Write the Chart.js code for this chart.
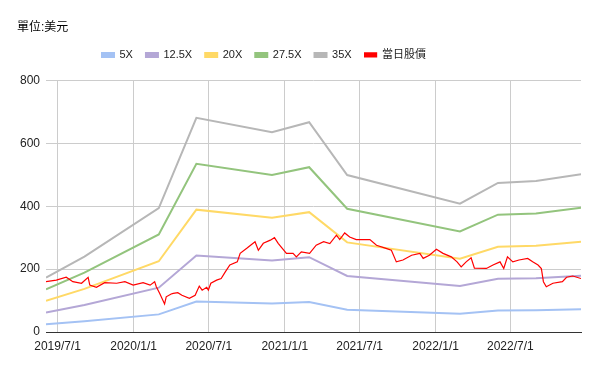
<!DOCTYPE html>
<html>
<head>
<meta charset="utf-8">
<script src="https://cdn.jsdelivr.net/npm/chart.js@4.4.1/dist/chart.umd.min.js"></script>
<style>
  html, body { margin: 0; padding: 0; background: #fff; }
  #wrap { width: 600px; height: 371px; }
</style>
</head>
<body>
<div id="wrap"><canvas id="myChart" width="600" height="371"></canvas></div>
<script>
// valuation dates (one per quarter) and the lines at each multiple
const valDates = ["2019-06-03", "2019-09-04", "2020-03-02", "2020-06-01", "2020-12-01", "2021-03-01",
  "2021-06-01", "2022-03-01", "2022-06-01", "2022-09-01", "2022-12-19"];
const pe5 = [25, 34, 56, 97, 91, 95, 71, 58, 68, 69, 72];
const pe125 = [62, 86, 141, 243, 227, 238, 178, 146, 169, 171, 179];
const pe20 = [99, 137, 225, 389, 363, 381, 285, 233, 271, 274, 287];
const pe275 = [136, 189, 310, 535, 499, 524, 392, 320, 373, 377, 395];
const pe35 = [173, 240, 394, 681, 635, 667, 499, 408, 474, 480, 502];

// daily close (sampled)
const priceDates = ["2019-06-03", "2019-06-28", "2019-07-22", "2019-08-07", "2019-08-28", "2019-09-13", "2019-09-17",
  "2019-10-03", "2019-10-23", "2019-11-21", "2019-12-11", "2019-12-31", "2020-01-24", "2020-02-10", "2020-02-21",
  "2020-02-25", "2020-03-04", "2020-03-16", "2020-03-20", "2020-04-01", "2020-04-06", "2020-04-17", "2020-04-27",
  "2020-05-15", "2020-05-29", "2020-06-08", "2020-06-15", "2020-06-26", "2020-06-30", "2020-07-06", "2020-07-20",
  "2020-07-31", "2020-08-10", "2020-08-21", "2020-09-08", "2020-09-15", "2020-10-01", "2020-10-21", "2020-10-29",
  "2020-11-10", "2020-11-27", "2020-12-07", "2020-12-16", "2021-01-05", "2021-01-21", "2021-01-29", "2021-02-10",
  "2021-03-02", "2021-03-18", "2021-04-05", "2021-04-20", "2021-05-06", "2021-05-14", "2021-05-26", "2021-06-07",
  "2021-06-23", "2021-07-09", "2021-07-26", "2021-08-11", "2021-09-03", "2021-09-16", "2021-09-28", "2021-10-14",
  "2021-11-04", "2021-11-24", "2021-12-02", "2021-12-17", "2022-01-03", "2022-01-19", "2022-02-08", "2022-02-22",
  "2022-03-04", "2022-03-16", "2022-03-28", "2022-04-05", "2022-05-04", "2022-05-20", "2022-06-06", "2022-06-15",
  "2022-06-24", "2022-07-07", "2022-07-22", "2022-08-12", "2022-08-24", "2022-09-06", "2022-09-14", "2022-09-19",
  "2022-09-26", "2022-10-12", "2022-11-04", "2022-11-14", "2022-11-29", "2022-12-19"];
const prices = [160, 165, 174, 160, 155, 174, 149,
  142, 157, 155, 160, 149, 157, 149, 160,
  144, 123, 89, 112, 121, 123, 125, 117,
  107, 117, 146, 133, 142, 133, 155, 165,
  170, 191, 213, 223, 250, 266, 287, 260,
  282, 292, 300, 282, 250, 250, 239, 255,
  250, 276, 287, 281, 308, 294, 315, 302,
  294, 294, 294, 276, 266, 260, 223, 229,
  244, 250, 234, 244, 263, 250, 239, 223,
  207, 223, 236, 203, 202, 213, 223, 202,
  239, 223, 229, 234, 223, 213, 202, 160,
  144, 155, 160, 174, 178, 170];

const tickDates = ["2019-07-01", "2020-01-01", "2020-07-01", "2021-01-01", "2021-07-01", "2022-01-01", "2022-07-01"];
const yTicks = [0, 200, 400, 600, 800];

const seriesNames = ["5X", "12.5X", "20X", "27.5X", "35X", "當日股價"];
const seriesColors = ["#a4c2f4", "#b4a7d6", "#ffd966", "#93c47d", "#b7b7b7", "#ff0000"];

const FONT = "'Liberation Sans', Arial, 'Noto Sans CJK TC', sans-serif";

function t(s) {
  const p = s.split("-");
  return Date.UTC(+p[0], +p[1] - 1, +p[2]);
}
function pts(dates, vals) {
  return dates.map((d, i) => ({ x: t(d), y: vals[i] }));
}

const valSeries = [pe5, pe125, pe20, pe275, pe35];
const datasets = valSeries.map((vals, i) => ({
  label: seriesNames[i],
  data: pts(valDates, vals),
  borderColor: seriesColors[i],
  backgroundColor: seriesColors[i],
  borderWidth: 2,
  pointRadius: 0,
  order: 1
}));
datasets.push({
  label: seriesNames[5],
  data: pts(priceDates, prices),
  borderColor: seriesColors[5],
  backgroundColor: seriesColors[5],
  borderWidth: 1.2,
  pointRadius: 0,
  order: 0
});

const tickVals = tickDates.map(t);

// legend: a bit more room underneath, and start it where the reference does
const legendTweak = {
  id: "legendTweak",
  afterInit(chart) {
    const fit = chart.legend.fit;
    chart.legend.fit = function () {
      fit.call(this);
      this.height += 10;
    };
  },
  afterLayout(chart) {
    chart.legend.left = 89;
  }
};

const config = {
  type: "line",
  data: { datasets },
  plugins: [legendTweak],
  options: {
    responsive: false,
    animation: false,
    devicePixelRatio: 1,
    layout: { padding: { left: 17, right: 19, top: 0, bottom: 0 } },
    plugins: {
      title: {
        display: true,
        text: "單位:美元",
        align: "start",
        color: "#000",
        font: { family: FONT, size: 12, weight: "normal" },
        padding: { top: 20, bottom: 2 }
      },
      legend: {
        display: true,
        align: "start",
        labels: {
          color: "#222",
          font: { family: FONT, size: 11 },
          boxWidth: 12,
          boxHeight: 4,
          padding: 13,
          sort: (a, b) => a.datasetIndex - b.datasetIndex
        }
      },
      tooltip: { enabled: false }
    },
    scales: {
      x: {
        type: "linear",
        min: t(priceDates[0]),
        max: t(priceDates[priceDates.length - 1]),
        afterBuildTicks: (scale) => {
          scale.ticks = tickVals.map(v => ({ value: v }));
        },
        afterFit: (scale) => { scale.height = 39; },
        ticks: {
          autoSkip: false,
          maxRotation: 0,
          color: "#222",
          font: { family: FONT, size: 12 },
          padding: 7,
          callback: (v) => {
            const d = new Date(v);
            return d.getUTCFullYear() + "/" + (d.getUTCMonth() + 1) + "/" + d.getUTCDate();
          }
        },
        grid: { color: "#cccccc", drawTicks: false },
        border: { display: true, color: "#333", width: 1 }
      },
      y: {
        min: 0,
        max: 800,
        afterBuildTicks: (scale) => {
          scale.ticks = yTicks.map(v => ({ value: v }));
        },
        afterFit: (scale) => { scale.width = 29; },
        ticks: {
          color: "#222",
          font: { family: FONT, size: 12 },
          padding: 6
        },
        grid: { color: "#cccccc", drawTicks: false },
        border: { display: false }
      }
    }
  }
};

new Chart(document.getElementById("myChart"), config);
</script>
</body>
</html>
